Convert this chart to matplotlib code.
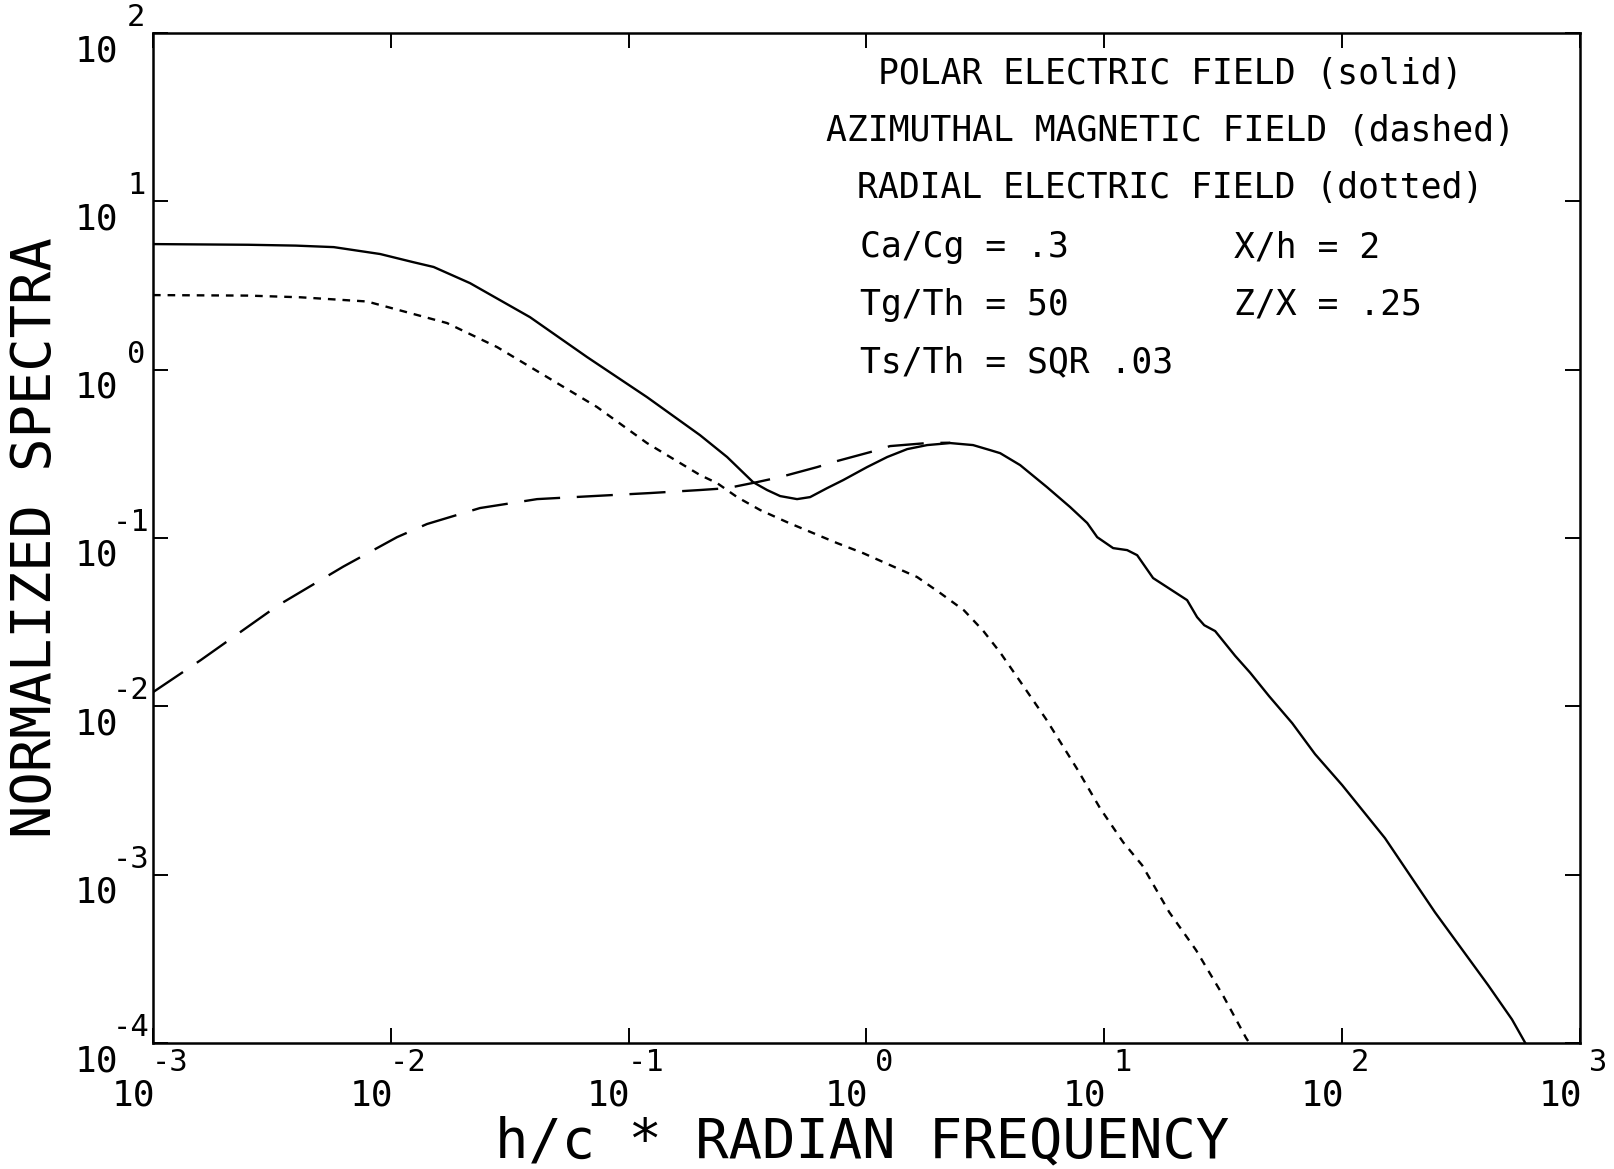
import numpy as np
import matplotlib
matplotlib.use("Agg")
import matplotlib.pyplot as plt
from matplotlib.ticker import FixedLocator, NullLocator, NullFormatter
from matplotlib.transforms import offset_copy

plt.rcParams["font.family"] = ["DejaVu Sans Mono", "DejaVu Sans"]
plt.rcParams["lines.scale_dashes"] = False

# ----------------------------
# Curves, as log10 values
# ----------------------------
# polar electric field (solid)
solid_logx = [-3.0, -2.6, -2.4, -2.24, -2.045, -1.907, -1.82, -1.667, -1.415, -1.175,
              -0.923, -0.7, -0.586, -0.477, -0.418, -0.363, -0.292, -0.237, -0.166,
              -0.098, 0.002, 0.087, 0.171, 0.255, 0.352, 0.448, 0.52, 0.562, 0.646,
              0.759, 0.856, 0.928, 0.97, 1.037, 1.096, 1.138, 1.205, 1.264, 1.348,
              1.39, 1.42, 1.466, 1.55, 1.613, 1.693, 1.79, 1.886, 2.0, 2.18, 2.39,
              2.614, 2.714, 2.77]
solid_logy = [0.746, 0.742, 0.737, 0.728, 0.687, 0.639, 0.61, 0.514, 0.312, 0.075,
              -0.163, -0.389, -0.519, -0.668, -0.715, -0.751, -0.769, -0.757, -0.704,
              -0.656, -0.579, -0.519, -0.472, -0.448, -0.436, -0.448, -0.478, -0.496, -0.567,
              -0.698, -0.816, -0.911, -0.995, -1.06, -1.072, -1.102, -1.238, -1.292, -1.369,
              -1.47, -1.518, -1.553, -1.70, -1.80, -1.94, -2.10, -2.284, -2.468, -2.783, -3.223,
              -3.657, -3.86, -4.0]

# azimuthal magnetic field (dashed)
dashed_logx = [-3.0, -2.8, -2.474, -2.2, -1.974, -1.848, -1.625, -1.385, -1.15,
               -0.91, -0.7, -0.586, -0.46, -0.363, -0.208, -0.124, 0.015, 0.099,
               0.255, 0.352]
dashed_logy = [-1.916, -1.726, -1.40, -1.17, -0.995, -0.917, -0.822, -0.769, -0.751,
               -0.733, -0.715, -0.704, -0.668, -0.638, -0.579, -0.543, -0.49, -0.454,
               -0.436, -0.434]

# radial electric field (dotted)
dotted_logx = [-3.0, -2.6, -2.38, -2.1, -1.764, -1.553, -1.343, -1.133, -0.923,
               -0.7, -0.628, -0.544, -0.447, -0.334, -0.224, -0.124, -0.014, 0.099,
               0.213, 0.31, 0.41, 0.49, 0.562, 0.65, 0.755, 0.886, 0.982, 1.079,
               1.159, 1.273, 1.386, 1.5, 1.596, 1.61]
dotted_logy = [0.443, 0.44, 0.43, 0.405, 0.277, 0.134, -0.044, -0.222, -0.436,
               -0.626, -0.674, -0.757, -0.834, -0.906, -0.971, -1.03, -1.09, -1.161,
               -1.232, -1.327, -1.43, -1.55, -1.68, -1.86, -2.076, -2.373, -2.605, -2.807,
               -2.944, -3.223, -3.449, -3.72, -3.97, -4.0]

x_exps = [-3, -2, -1, 0, 1, 2, 3]
y_exps = [-4, -3, -2, -1, 0, 1, 2]

title_lines = ["POLAR ELECTRIC FIELD (solid)",
               "AZIMUTHAL MAGNETIC FIELD (dashed)",
               "RADIAL ELECTRIC FIELD (dotted)"]
params_left = ["Ca/Cg = .3", "Tg/Th = 50", "Ts/Th = SQR .03"]
params_right = ["X/h = 2", "Z/X = .25"]

# ----------------------------
# Figure
# ----------------------------
W, H = 1615, 1169
fig = plt.figure(figsize=(W / 100, H / 100), dpi=100)
ax = fig.add_axes([153 / W, 1 - 1043 / H, 1427 / W, 1010 / H])

ax.plot(10 ** np.array(solid_logx), 10 ** np.array(solid_logy), color="black", lw=1.7)
ax.plot(10 ** np.array(dashed_logx), 10 ** np.array(dashed_logy), color="black", lw=1.7,
        linestyle=(0, (26, 12)))
ax.plot(10 ** np.array(dotted_logx), 10 ** np.array(dotted_logy), color="black", lw=1.7,
        linestyle=(0, (5.5, 5)))

ax.set_xscale("log")
ax.set_yscale("log")
ax.set_xlim(1e-3, 1e3)
ax.set_ylim(1e-4, 1e2)
ax.xaxis.set_major_locator(FixedLocator([10.0 ** e for e in x_exps]))
ax.yaxis.set_major_locator(FixedLocator([10.0 ** e for e in y_exps]))
ax.xaxis.set_minor_locator(NullLocator())
ax.yaxis.set_minor_locator(NullLocator())
ax.xaxis.set_major_formatter(NullFormatter())
ax.yaxis.set_major_formatter(NullFormatter())
ax.tick_params(which="major", direction="in", length=11, width=1.4,
               top=True, right=True)
for sp in ax.spines.values():
    sp.set_linewidth(1.8)

# tick labels drawn as 10 + raised exponent
xt = ax.get_xaxis_transform()
yt = ax.get_yaxis_transform()
for e in x_exps:
    ax.text(10.0 ** e, 0, "10", fontsize=26, ha="right", va="top",
            transform=offset_copy(xt, fig, x=2, y=-35, units="dots"))
    dx = -1 if e < 0 else 9
    ax.text(10.0 ** e, 0, str(e), fontsize=22, ha="left", va="bottom",
            transform=offset_copy(xt, fig, x=dx, y=-34, units="dots"))
for e in y_exps:
    ax.text(0, 10.0 ** e, "10", fontsize=26, ha="right", va="top",
            transform=offset_copy(yt, fig, x=-35, y=-1, units="dots"))
    dx = -40 if e < 0 else -26
    ax.text(0, 10.0 ** e, str(e), fontsize=22, ha="left", va="bottom",
            transform=offset_copy(yt, fig, x=dx, y=1, units="dots"))

# annotation block
for txt, yy in zip(title_lines, [0.9594, 0.9030, 0.8465]):
    ax.text(0.7127, yy, txt, transform=ax.transAxes, fontsize=25,
            ha="center", va="center")
for txt, yy in zip(params_left, [0.788, 0.7307, 0.6743]):
    ax.text(0.4954, yy, txt, transform=ax.transAxes, fontsize=25,
            ha="left", va="center")
for txt, yy in zip(params_right, [0.788, 0.7307]):
    ax.text(0.7575, yy, txt, transform=ax.transAxes, fontsize=25,
            ha="left", va="center")

fig.text(862 / W, 1 - 1142 / H, "h/c * RADIAN FREQUENCY", fontsize=40,
         ha="center", va="center")
fig.text(36 / W, 1 - 538 / H, "NORMALIZED SPECTRA", fontsize=40,
         ha="center", va="center", rotation=90)

fig.savefig("out.png", dpi=100)
